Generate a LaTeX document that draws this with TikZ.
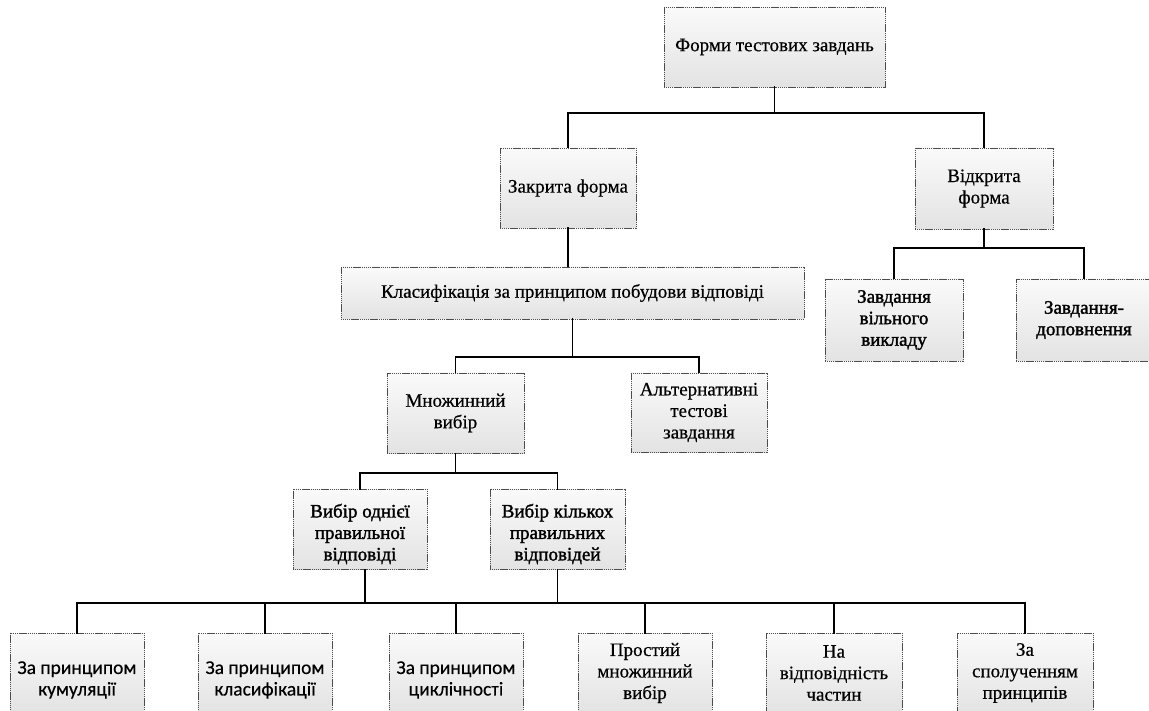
\documentclass[tikz,border=0pt]{standalone}
\usepackage{fontspec}
\setmainfont{Liberation Serif}[FakeBold=0.5]
\newfontfamily\calfont{Carlito}[FakeBold=0.3]
\newfontfamily\heavyfont{Liberation Serif}[FakeBold=1.6]
\begin{document}
\begin{tikzpicture}[x=1pt,y=-1pt,
  box/.style={draw=black!70, line width=0.6pt, dash pattern=on 1.3pt off 0.6pt,
    top color=black!2, bottom color=black!11, inner sep=0pt, align=center, rectangle,
    font=\fontsize{19}{21.5}\selectfont},
  txt/.style={inner sep=0pt, align=center, font=\fontsize{19}{21.5}\selectfont},
  heavy/.style={font=\fontsize{19}{21.5}\heavyfont},
  cal/.style={font=\fontsize{19.5}{21.5}\calfont},
  conn/.style={draw=black, line width=1.6pt, line cap=rect}]
\useasboundingbox (0,0) rectangle (1149,711);
% nodes
\node[box, minimum width=221pt, minimum height=80pt] (top) at (774.5,47) {Форми тестових завдань};
\node[box, minimum width=136pt, minimum height=80pt] (zak) at (568,188) {Закрита форма};
\node[box, minimum width=138pt, minimum height=81pt] (vid) at (984,188.5) {Відкрита\\форма};
\node[box, minimum width=463pt, minimum height=52pt] (kla) at (572.5,293) {Класифікація за принципом побудови відповіді};
\node[box, minimum width=137pt, minimum height=80pt] (mno) at (455.5,413) {Множинний\\вибір};
\node[box, minimum width=136pt, minimum height=79pt] (alt) at (699,412.5) {Альтернативні\\тестові\\завдання};
\node[box, minimum width=134pt, minimum height=80pt] (vone) at (360,529) {};
\node[txt, heavy] (vonet) at ([yshift=-5pt]vone.center) {Вибір однієї\\правильної\\відповіді};
\node[box, minimum width=135pt, minimum height=80pt] (vtwo) at (557.5,529) {};
\node[txt, heavy] (vtwot) at ([yshift=-5pt]vtwo.center) {Вибір кількох\\правильних\\відповідей};
\node[box, minimum width=138pt, minimum height=82pt, heavy] (zv) at (894,320) {Завдання\\вільного\\викладу};
\node[box, minimum width=136pt, minimum height=82pt, heavy] (zd) at (1084,320) {Завдання-\\доповнення};
\node[box, minimum width=134pt, minimum height=80pt] (ba) at (77,673) {};
\node[txt, cal] (bat) at ([yshift=-7pt]ba.center) {За принципом\\кумуляції};
\node[box, minimum width=134pt, minimum height=80pt] (bb) at (265,673) {};
\node[txt, cal] (bbt) at ([yshift=-7pt]bb.center) {За принципом\\класифікації};
\node[box, minimum width=134pt, minimum height=80pt] (bc) at (456,673) {};
\node[txt, cal] (bct) at ([yshift=-7pt]bc.center) {За принципом\\циклічності};
\node[box, minimum width=134pt, minimum height=80pt] (bd) at (645,673) {Простий\\множинний\\вибір};
\node[box, minimum width=136pt, minimum height=80pt] (be) at (834,673) {На\\відповідність\\частин};
\node[box, minimum width=136pt, minimum height=80pt] (bf) at (1025,673) {За\\сполученням\\принципів};
% connectors
\draw[conn] (top.south) -- (top.south |- 0,113);
\draw[conn] (zak.north) |- (vid.north |- 0,113) -- (vid.north);
\draw[conn] (zak.south) -- (zak.south |- kla.north);
\draw[conn] (vid.south) -- (vid.south |- 0,248);
\draw[conn] (zv.north) |- (zd.north |- 0,248) -- (zd.north);
\draw[conn] (kla.south) -- (kla.south |- 0,357);
\draw[conn] (mno.north) |- (alt.north |- 0,357) -- (alt.north);
\draw[conn] (mno.south) -- (mno.south |- 0,473);
\draw[conn] (vone.north) |- (vtwo.north |- 0,473) -- (vtwo.north);
\draw[conn] ([xshift=5pt]vone.south) -- ([xshift=5pt]vone.south |- 0,603);
\draw[conn] (vtwo.south) -- (vtwo.south |- 0,603);
\draw[conn] (ba.north) |- (bf.north |- 0,603) -- (bf.north);
\draw[conn] (bb.north) -- (bb.north |- 0,603);
\draw[conn] (bc.north) -- (bc.north |- 0,603);
\draw[conn] (bd.north) -- (bd.north |- 0,603);
\draw[conn] (be.north) -- (be.north |- 0,603);
\end{tikzpicture}
\end{document}
